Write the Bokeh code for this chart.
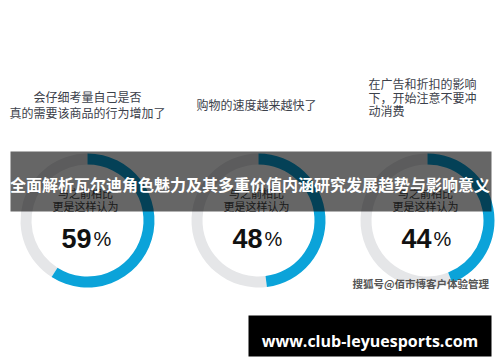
import math
from bokeh.plotting import figure
from bokeh.models import Range1d, ColumnDataSource
from bokeh.core.properties import value
from bokeh.embed import file_html
from bokeh.resources import INLINE

# ---- data ----
percent_values = [59, 48, 44]
question_lines = [
    ["会仔细考量自己是否", "真的需要该商品的行为增加了"],
    ["购物的速度越来越快了"],
    ["在广告和折扣的影响", "下，开始注意不要冲", "动消费"],
]
subtitle_lines = ["与之前相比", "更是这样认为"]
title_text = "全面解析瓦尔迪角色魅力及其多重价值内涵研究发展趋势与影响意义"
watermark_text = "搜狐号@佰市博客户体验管理"
footer_text = "www.club-leyuesports.com"

# ---- layout (image pixel coordinates) ----
def Y(img_y):
    return 362 - img_y

centers_x = [87, 258, 427]
center_y = Y(220)
R_OUT, R_IN = 67, 56
BLUE = "#0ba3d9"
GREY = "#e5e6e8"
CJK = value("Noto Sans CJK SC")
TXT = "#3b404a"

p = figure(width=500, height=362, x_range=Range1d(0, 500), y_range=Range1d(0, 362),
           output_backend="svg", toolbar_location=None, x_axis_type=None,
           y_axis_type=None, min_border=0)
p.grid.visible = False
p.outline_line_color = None
p.background_fill_color = "white"
p.border_fill_color = "white"

# donuts
fracs = [v / 100 for v in percent_values]
src = ColumnDataSource(dict(
    x=centers_x, y=[center_y] * 3,
    blue_start=[math.pi / 2 - f * 2 * math.pi for f in fracs],
    top=[math.pi / 2] * 3,
))
p.annular_wedge(x="x", y="y", inner_radius=R_IN, outer_radius=R_OUT,
                start_angle="top", end_angle="blue_start", direction="anticlock",
                fill_color=GREY, line_color=None, source=src)
p.annular_wedge(x="x", y="y", inner_radius=R_IN, outer_radius=R_OUT,
                start_angle="blue_start", end_angle="top", direction="anticlock",
                fill_color=BLUE, line_color=None, source=src)

# numbers
p.text(x=[cx + 4 for cx in centers_x], y=[Y(238)] * 3, text=[str(v) for v in percent_values],
       text_align="right", text_baseline="alphabetic", text_font=value("Liberation Sans"),
       text_font_style="bold", text_font_size="27px", text_color="#111111")
p.text(x=[cx + 6 for cx in centers_x], y=[Y(238)] * 3, text=["%"] * 3,
       text_align="left", text_baseline="alphabetic", text_font=value("Liberation Sans"),
       text_font_size="20px", text_color="#111111")

# subtitles inside the donuts
for i, line in enumerate(subtitle_lines):
    p.text(x=[cx - 2 for cx in centers_x], y=[Y(192 + 13 * i)] * 3, text=[line] * 3,
           text_align="center", text_baseline="middle", text_font=CJK,
           text_font_size="11px", text_color="#444444")

# questions
q_y0 = [96, 104, 83]
q_step = [15.5, 0, 13.5]
q_align = ["center", "center", "left"]
q_x = [87, 256, 368]
for k, lines in enumerate(question_lines):
    p.text(x=[q_x[k]] * len(lines), y=[Y(q_y0[k] + q_step[k] * i) for i in range(len(lines))],
           text=lines, text_align=q_align[k], text_baseline="middle", text_font=CJK,
           text_font_size="12px", text_color=TXT)

# banner overlay
p.quad(left=[10], right=[491], top=[Y(151)], bottom=[Y(211)],
       fill_color="black", fill_alpha=0.6, line_color=None)
p.text(x=[249.5], y=[Y(183)], text=[title_text], text_align="center", text_baseline="middle",
       text_font=CJK, text_font_style="bold", text_font_size="16px", text_color="white")

# watermark
p.text(x=[352], y=[Y(283)], text=[watermark_text], text_align="left", text_baseline="middle",
       text_font=CJK, text_font_style="bold", text_font_size="10.5px", text_color="#555555")

# footer bar
p.quad(left=[248], right=[491], top=[Y(315)], bottom=[Y(356)],
       fill_color="black", line_color=None)
p.text(x=[369.5], y=[Y(340)], text=[footer_text], text_align="center", text_baseline="middle",
       text_font=value("Open Sans"), text_font_style="bold", text_font_size="16px",
       text_color="white")

open("out.html", "w").write(file_html(p, INLINE))
